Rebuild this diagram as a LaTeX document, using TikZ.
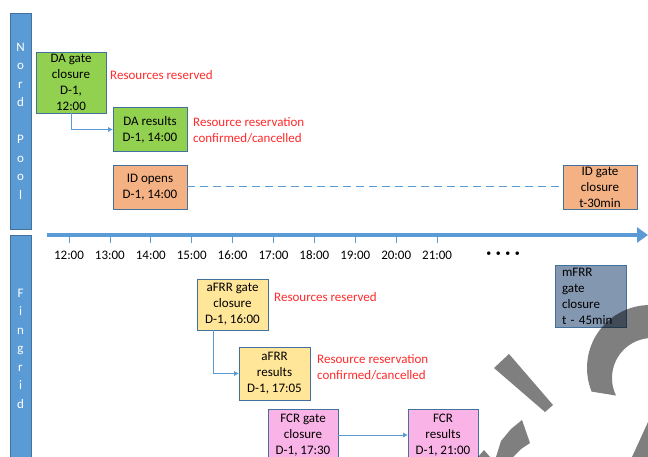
\documentclass[tikz,border=0pt]{standalone}
\usepackage{fontspec}
\setmainfont{Carlito}
\usetikzlibrary{arrows.meta,calc}
\definecolor{laneblue}{HTML}{5B9BD5}
\definecolor{laneedge}{HTML}{41719C}
\definecolor{dagreen}{HTML}{92D050}
\definecolor{idorange}{HTML}{F4B183}
\definecolor{afrryellow}{HTML}{FFE699}
\definecolor{fcrpink}{HTML}{F9B3E6}
\definecolor{mfrrgrey}{HTML}{8497B0}
\definecolor{notered}{HTML}{FF2A2A}

\begin{document}
\begin{tikzpicture}[x=1pt,y=-1pt,
  every node/.style={font=\fontsize{13}{16}\selectfont},
  box/.style={draw=laneedge,line width=0.8pt,inner sep=0pt,align=center,minimum width=71pt,minimum height=44pt},
  lane/.style={draw=laneedge,fill=laneblue,line width=0.8pt,inner sep=0pt,minimum width=21pt,text=white,align=center,font=\fontsize{13}{18.5}\selectfont},
  note/.style={text=notered,anchor=west,align=left,inner sep=0pt},
  conn/.style={draw=laneblue,line width=0.8pt,-{Triangle[length=4.5pt,width=4.5pt]}},
  wmark/.style={fill=black,fill opacity=0.5}]
  \useasboundingbox (0,0) rectangle (648,457);
  \clip (0,0) rectangle (648,457);

  % lanes
  \node[lane,minimum height=216pt] (nordpool) at (20.5,121) {N\\o\\r\\d\\[18.5pt]P\\o\\o\\l};
  \node[lane,minimum height=227pt] (fingrid) at (20.5,348.5) {F\\i\\n\\g\\r\\i\\d};

  % time axis
  \coordinate (axstart) at (47,235);
  \coordinate (axend) at (648,235);
  \draw[laneblue,line width=4.5pt,-{Triangle[length=11pt,width=15pt]}] (axstart) -- (axend);
  \foreach \h [count=\i from 0] in {12,...,21} {
    \draw[laneblue,line width=0.8pt] (69+40.9*\i,237) -- (69+40.9*\i,243);
    \node (t\h) at (69+40.9*\i,255) {\h:00};
  }
  \node[font=\fontsize{10}{12}\selectfont] (more) at (503,254) {\textbullet\ \ \textbullet\ \ \textbullet\ \ \textbullet};

  % Nord Pool
  \node[box,fill=dagreen,minimum width=70pt,minimum height=61pt] (dagate) at (71,82.5) {DA gate\\closure\\D-1,\\12:00};
  \node[box,fill=dagreen,minimum width=74pt] (dares) at (150,129.5) {DA results\\D-1, 14:00};
  \node[box,fill=idorange,minimum width=74pt] (idopen) at (150,187) {ID opens\\D-1, 14:00};
  \node[box,fill=idorange,minimum width=74pt] (idclose) at (600,187) {ID gate\\closure\\t-30min};
  \node[note] (dareserve) at (110,75) {Resources reserved};
  \node[note] (daconfirm) at (193,130) {Resource reservation\\confirmed/cancelled};
  \draw[conn] (dagate.south) |- (dares.west);
  \draw[laneblue,line width=1pt,dash pattern=on 8pt off 5pt] (idopen.east) -- (idclose.west);

  % Fingrid
  \node[box,fill=afrryellow,minimum height=51pt] (afrrgate) at (232.5,304.5) {aFRR gate\\closure\\D-1, 16:00};
  \node[box,fill=afrryellow,minimum height=53pt] (afrrres) at (274.5,373.5) {aFRR\\results\\D-1, 17:05};
  \node[box,fill=fcrpink,minimum width=70pt,minimum height=52pt] (fcrgate) at (303,435) {FCR gate\\closure\\D-1, 17:30};
  \node[box,fill=fcrpink,minimum width=70pt,minimum height=52pt] (fcrres) at (443,435) {FCR\\results\\D-1, 21:00};
  \node[box,fill=mfrrgrey,align=left,text width=57pt,minimum height=62pt] (mfrr) at (590.5,296) {mFRR\\gate\\closure\\t - 45min};
  \node[note] (afrrreserve) at (274,297) {Resources reserved};
  \node[note] (afrrconfirm) at (317,367.5) {Resource reservation\\confirmed/cancelled};
  \draw[conn] ([xshift=-19.5pt]afrrgate.south) |- (afrrres.west);
  \draw[conn] (fcrgate.east) -- (fcrres.west);

  % watermark
  \fill[wmark] plot[domain=-50:-202,samples=40] ({650+63*cos(\x)},{368+63*sin(\x)})
    -- plot[domain=-206:-40,samples=40] ({652+40*cos(\x)},{378+40*sin(\x)}) -- cycle;
  \fill[wmark] (494,368) -- (509,354) -- (553,405) -- (545,412) -- cycle;
  \fill[wmark] (496,457) -- (501,441) -- (511,429) -- (522,420) -- (530,443) -- (521,449) -- (513,457) -- cycle;
  \fill[wmark] (478,457) -- (484,450) -- (490,457) -- cycle;
  \fill[wmark] (632,457) -- (648,422) -- (648,457) -- cycle;
\end{tikzpicture}
\end{document}
